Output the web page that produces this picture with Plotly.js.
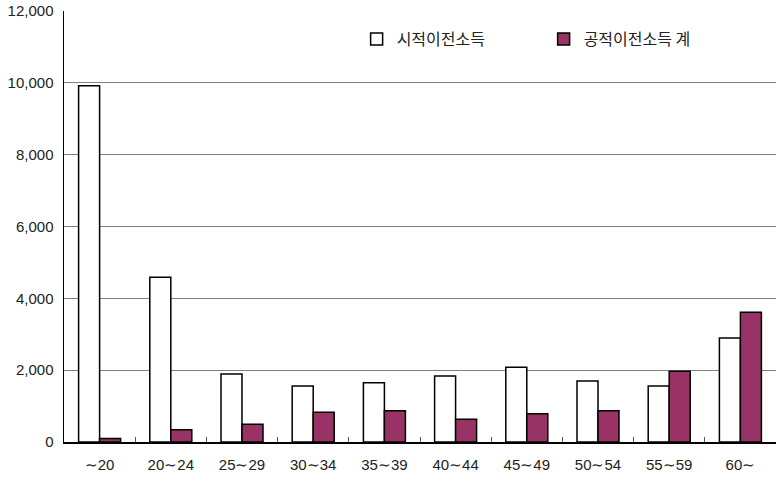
<!DOCTYPE html>
<html>
<head>
<meta charset="utf-8">
<script src="https://cdn.plot.ly/plotly-3.0.1.min.js"></script>
<style>html,body{margin:0;padding:0;background:#fff;}</style>
</head>
<body>
<div id="chart" style="width:778px;height:481px;"></div>
<script>
const categories = ["~20", "20~24", "25~29", "30~34", "35~39", "40~44", "45~49", "50~54", "55~59", "60~"];
const privateTransfer = [9920, 4590, 1890, 1556, 1650, 1840, 2083, 1700, 1556, 2897];
const publicTransfer = [95, 342, 492, 825, 869, 631, 786, 869, 1972, 3611];
const seriesNames = ["시적이전소득", "공적이전소득 계"];
const yTicks = [0, 2000, 4000, 6000, 8000, 10000, 12000];
const yTickText = ["0", "2,000", "4,000", "6,000", "8,000", "10,000", "12,000"];
const tickLabels = categories.map(c => c.replace("~", "\u223C"));

const font = "Arial, 'Liberation Sans', 'Noto Sans CJK KR', sans-serif";

const data = [
  {type: "bar", name: seriesNames[0], x: tickLabels, y: privateTransfer,
   marker: {color: "#ffffff", line: {color: "#000000", width: 1.5}}},
  {type: "bar", name: seriesNames[1], x: tickLabels, y: publicTransfer,
   marker: {color: "#993366", line: {color: "#000000", width: 1.5}}}
];

const layout = {
  width: 778, height: 481,
  margin: {l: 64, r: 2, t: 11, b: 39, autoexpand: false},
  paper_bgcolor: "#fff", plot_bgcolor: "#fff",
  barmode: "group", bargap: 0.41, bargroupgap: 0,
  showlegend: true,
  legend: {orientation: "h", x: 0.411, y: 0.935, xanchor: "left", yanchor: "middle",
           font: {family: "'Noto Sans CJK KR', sans-serif", size: 16, color: "#222"},
           entrywidth: 142, entrywidthmode: "pixels", itemwidth: 30, bgcolor: "rgba(0,0,0,0)"},
  xaxis: {type: "category", showline: true, linecolor: "#000", linewidth: 1.5,
          ticks: "inside", tickson: "boundaries", ticklen: 5, tickcolor: "#555",
          tickfont: {family: font, size: 15, color: "#222"}, ticklabelstandoff: 8,
          showgrid: false, zeroline: false, mirror: false},
  yaxis: {range: [0, 12000], tickvals: yTicks, ticktext: yTickText,
          showline: true, linecolor: "#000", linewidth: 1.5,
          showgrid: true, gridcolor: "#808080", gridwidth: 1,
          ticks: "", tickfont: {family: font, size: 15, color: "#222"}, ticklabelstandoff: 6,
          zeroline: false}
};

Plotly.newPlot("chart", data, layout, {displayModeBar: false, staticPlot: true});
</script>
</body>
</html>
